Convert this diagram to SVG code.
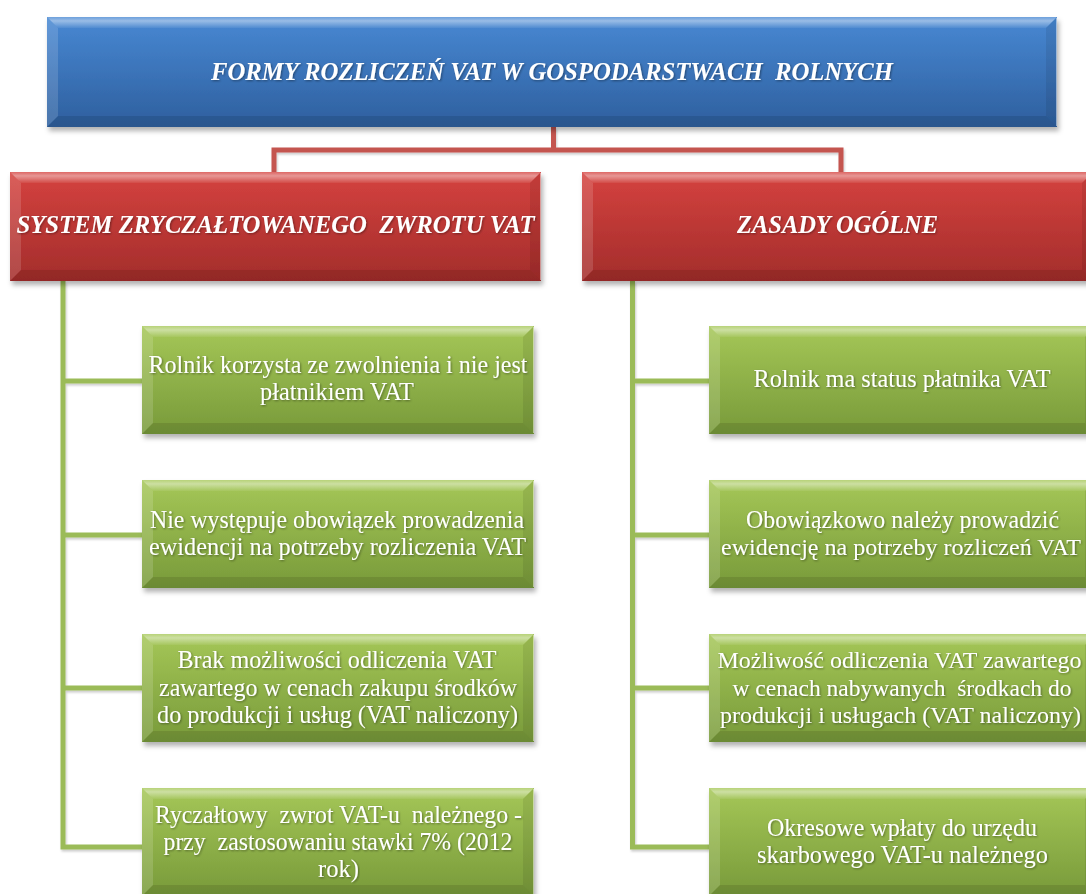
<svg xmlns="http://www.w3.org/2000/svg" width="1086" height="894" viewBox="0 0 1086 894">
  <defs>
    <linearGradient id="gBlue" x1="0" y1="0" x2="0" y2="1">
      <stop offset="0" stop-color="#4888d3"/>
      <stop offset="1" stop-color="#2e5f9e"/>
    </linearGradient>
    <linearGradient id="gRed" x1="0" y1="0" x2="0" y2="1">
      <stop offset="0" stop-color="#d5423f"/>
      <stop offset="1" stop-color="#a32d2b"/>
    </linearGradient>
    <linearGradient id="gGreen" x1="0" y1="0" x2="0" y2="1">
      <stop offset="0" stop-color="#a5c757"/>
      <stop offset="1" stop-color="#789a3a"/>
    </linearGradient>
    <linearGradient id="gTop" x1="0" y1="0" x2="0" y2="1">
      <stop offset="0" stop-color="#ffffff" stop-opacity="0.2"/>
      <stop offset="0.35" stop-color="#ffffff" stop-opacity="0.45"/>
      <stop offset="1" stop-color="#ffffff" stop-opacity="0.06"/>
    </linearGradient>
    <filter id="shadow" x="-5%" y="-10%" width="110%" height="130%">
      <feDropShadow dx="2" dy="4" stdDeviation="2.5" flood-color="#000" flood-opacity="0.3"/>
    </filter>
    <filter id="lineShadow" x="-20%" y="-20%" width="140%" height="140%">
      <feDropShadow dx="1" dy="2" stdDeviation="1.2" flood-color="#000" flood-opacity="0.2"/>
    </filter>
    <filter id="txtShadow" x="-1%" y="-30%" width="101.5%" height="160%">
      <feDropShadow dx="1" dy="1" stdDeviation="0.8" flood-color="#000" flood-opacity="0.4"/>
    </filter>
  </defs>
  <style>
    .blue { fill: url(#gBlue); }
    .red { fill: url(#gRed); }
    .green { fill: url(#gGreen); }
    .bt { fill: url(#gTop); }
    .bl { fill: #ffffff; fill-opacity: 0.14; }
    .br { fill: #000000; fill-opacity: 0.08; }
    .bb { fill: #000000; fill-opacity: 0.1; }
    .edge { fill: none; stroke: #ffffff; stroke-opacity: 0.5; stroke-width: 1; }
    .box { filter: url(#shadow); }
    .txt { fill: #ffffff; font-family: "Liberation Serif", "Times New Roman", serif; text-anchor: middle; filter: url(#txtShadow); }
    .title { font-size: 26px; font-weight: bold; font-style: italic; }
    .head { font-size: 25px; font-weight: bold; font-style: italic; }
    .item { font-size: 25px; }
    .item.tight { font-size: 22.5px; }
    .conRed { fill: none; stroke: #c45450; stroke-width: 5; filter: url(#lineShadow); }
    .conGreen { fill: none; stroke: #9bbb59; stroke-width: 5; filter: url(#lineShadow); }
  </style>

  <rect width="1086" height="894" fill="#ffffff"/>

  <!-- connectors -->
  <g id="connectors">
    <path class="conRed" d="M553.5,127 V150 M274,172 V150 H841 V172"/>
    <path class="conGreen" d="M63,281 V847 H142 M63,381 H142 M63,535 H142 M63,688 H142"/>
    <path class="conGreen" d="M632.5,281 V847 H709 M632.5,381 H709 M632.5,535 H709 M632.5,688 H709"/>
  </g>

  <!-- root -->
  <g id="root">
    <g class="box">
      <rect class="blue" x="47" y="17" width="1010" height="110"/>
      <polygon class="bt" points="47,17 1057,17 1046,28 58,28"/>
      <polygon class="bl" points="47,17 58,28 58,116 47,127"/>
      <polygon class="br" points="1057,17 1057,127 1046,116 1046,28"/>
      <polygon class="bb" points="47,127 1057,127 1046,116 58,116"/>
      <line class="edge" x1="1056.5" y1="18" x2="1056.5" y2="126"/>
    </g>
    <text class="txt title" x="552" y="80" textLength="682" lengthAdjust="spacingAndGlyphs" xml:space="preserve">FORMY ROZLICZEŃ VAT W GOSPODARSTWACH  ROLNYCH</text>
  </g>

  <!-- branch: flat-rate refund -->
  <g id="flatRate">
    <g class="box">
      <rect class="red" x="10" y="172" width="531" height="109"/>
      <polygon class="bt" points="10,172 541,172 530,183 21,183"/>
      <polygon class="bl" points="10,172 21,183 21,270 10,281"/>
      <polygon class="br" points="541,172 541,281 530,270 530,183"/>
      <polygon class="bb" points="10,281 541,281 530,270 21,270"/>
      <line class="edge" x1="540.5" y1="173" x2="540.5" y2="280"/>
    </g>
    <text class="txt head" x="275.5" y="233" textLength="518" lengthAdjust="spacingAndGlyphs" xml:space="preserve">SYSTEM ZRYCZAŁTOWANEGO  ZWROTU VAT</text>
  </g>

  <!-- branch: general rules -->
  <g id="generalRules">
    <g class="box">
      <rect class="red" x="582" y="172" width="511" height="109"/>
      <polygon class="bt" points="582,172 1093,172 1082,183 593,183"/>
      <polygon class="bl" points="582,172 593,183 593,270 582,281"/>
      <polygon class="br" points="1093,172 1093,281 1082,270 1082,183"/>
      <polygon class="bb" points="582,281 1093,281 1082,270 593,270"/>
    </g>
    <text class="txt head" x="837.5" y="233" textLength="201" lengthAdjust="spacingAndGlyphs">ZASADY OGÓLNE</text>
  </g>

  <!-- left column items -->
  <g id="left1">
    <g class="box">
      <rect class="green" x="142" y="326" width="392" height="108"/>
      <polygon class="bt" points="142,326 534,326 523,337 153,337"/>
      <polygon class="bl" points="142,326 153,337 153,423 142,434"/>
      <polygon class="br" points="534,326 534,434 523,423 523,337"/>
      <polygon class="bb" points="142,434 534,434 523,423 153,423"/>
      <line class="edge" x1="533.5" y1="327" x2="533.5" y2="433"/>
    </g>
    <text class="txt item" x="338" y="373" textLength="379" lengthAdjust="spacingAndGlyphs">Rolnik korzysta ze zwolnienia i nie jest</text>
    <text class="txt item" x="337" y="400" textLength="154" lengthAdjust="spacingAndGlyphs">płatnikiem VAT</text>
  </g>

  <g id="left2">
    <g class="box">
      <rect class="green" x="142" y="480" width="392" height="108"/>
      <polygon class="bt" points="142,480 534,480 523,491 153,491"/>
      <polygon class="bl" points="142,480 153,491 153,577 142,588"/>
      <polygon class="br" points="534,480 534,588 523,577 523,491"/>
      <polygon class="bb" points="142,588 534,588 523,577 153,577"/>
      <line class="edge" x1="533.5" y1="481" x2="533.5" y2="587"/>
    </g>
    <text class="txt item" x="337" y="528" textLength="374" lengthAdjust="spacingAndGlyphs">Nie występuje obowiązek prowadzenia</text>
    <text class="txt item" x="337.5" y="555" textLength="377" lengthAdjust="spacingAndGlyphs">ewidencji na potrzeby rozliczenia VAT</text>
  </g>

  <g id="left3">
    <g class="box">
      <rect class="green" x="142" y="634" width="392" height="108"/>
      <polygon class="bt" points="142,634 534,634 523,645 153,645"/>
      <polygon class="bl" points="142,634 153,645 153,731 142,742"/>
      <polygon class="br" points="534,634 534,742 523,731 523,645"/>
      <polygon class="bb" points="142,742 534,742 523,731 153,731"/>
      <line class="edge" x1="533.5" y1="635" x2="533.5" y2="741"/>
    </g>
    <text class="txt item" x="337" y="668" textLength="319" lengthAdjust="spacingAndGlyphs">Brak możliwości odliczenia VAT</text>
    <text class="txt item" x="338" y="695.5" textLength="358" lengthAdjust="spacingAndGlyphs">zawartego w cenach zakupu środków</text>
    <text class="txt item" x="337.5" y="723" textLength="361" lengthAdjust="spacingAndGlyphs">do produkcji i usług (VAT naliczony)</text>
  </g>

  <g id="left4">
    <g class="box">
      <rect class="green" x="142" y="788" width="392" height="108"/>
      <polygon class="bt" points="142,788 534,788 523,799 153,799"/>
      <polygon class="bl" points="142,788 153,799 153,885 142,896"/>
      <polygon class="br" points="534,788 534,896 523,885 523,799"/>
      <polygon class="bb" points="142,896 534,896 523,885 153,885"/>
      <line class="edge" x1="533.5" y1="789" x2="533.5" y2="894"/>
    </g>
    <text class="txt item" x="338.5" y="823" textLength="367" lengthAdjust="spacingAndGlyphs" xml:space="preserve">Ryczałtowy  zwrot VAT-u  należnego -</text>
    <text class="txt item" x="338" y="850" textLength="349" lengthAdjust="spacingAndGlyphs" xml:space="preserve">przy  zastosowaniu stawki 7% (2012</text>
    <text class="txt item" x="338.5" y="877" textLength="41" lengthAdjust="spacingAndGlyphs">rok)</text>
  </g>

  <!-- right column items -->
  <g id="right1">
    <g class="box">
      <rect class="green" x="709" y="326" width="387" height="108"/>
      <polygon class="bt" points="709,326 1096,326 1085,337 720,337"/>
      <polygon class="bl" points="709,326 720,337 720,423 709,434"/>
      <polygon class="br" points="1096,326 1096,434 1085,423 1085,337"/>
      <polygon class="bb" points="709,434 1096,434 1085,423 720,423"/>
    </g>
    <text class="txt item" x="902" y="387" textLength="297" lengthAdjust="spacingAndGlyphs">Rolnik ma status płatnika VAT</text>
  </g>

  <g id="right2">
    <g class="box">
      <rect class="green" x="709" y="480" width="387" height="108"/>
      <polygon class="bt" points="709,480 1096,480 1085,491 720,491"/>
      <polygon class="bl" points="709,480 720,491 720,577 709,588"/>
      <polygon class="br" points="1096,480 1096,588 1085,577 1085,491"/>
      <polygon class="bb" points="709,588 1096,588 1085,577 720,577"/>
    </g>
    <text class="txt item" x="902.5" y="528" textLength="313" lengthAdjust="spacingAndGlyphs">Obowiązkowo należy prowadzić</text>
    <text class="txt item tight" x="901" y="555" textLength="360" lengthAdjust="spacingAndGlyphs">ewidencję na potrzeby rozliczeń VAT</text>
  </g>

  <g id="right3">
    <g class="box">
      <rect class="green" x="709" y="634" width="387" height="108"/>
      <polygon class="bt" points="709,634 1096,634 1085,645 720,645"/>
      <polygon class="bl" points="709,634 720,645 720,731 709,742"/>
      <polygon class="br" points="1096,634 1096,742 1085,731 1085,645"/>
      <polygon class="bb" points="709,742 1096,742 1085,731 720,731"/>
    </g>
    <text class="txt item tight" x="899.5" y="668" textLength="364" lengthAdjust="spacingAndGlyphs">Możliwość odliczenia VAT zawartego</text>
    <text class="txt item tight" x="902" y="695.5" textLength="339" lengthAdjust="spacingAndGlyphs" xml:space="preserve">w cenach nabywanych  środkach do</text>
    <text class="txt item tight" x="900.5" y="723" textLength="361" lengthAdjust="spacingAndGlyphs">produkcji i usługach (VAT naliczony)</text>
  </g>

  <g id="right4">
    <g class="box">
      <rect class="green" x="709" y="788" width="387" height="108"/>
      <polygon class="bt" points="709,788 1096,788 1085,799 720,799"/>
      <polygon class="bl" points="709,788 720,799 720,885 709,896"/>
      <polygon class="br" points="1096,788 1096,896 1085,885 1085,799"/>
      <polygon class="bb" points="709,896 1096,896 1085,885 720,885"/>
    </g>
    <text class="txt item" x="902" y="836" textLength="270" lengthAdjust="spacingAndGlyphs">Okresowe wpłaty do urzędu</text>
    <text class="txt item" x="902.5" y="863" textLength="291" lengthAdjust="spacingAndGlyphs">skarbowego VAT-u należnego</text>
  </g>
</svg>
